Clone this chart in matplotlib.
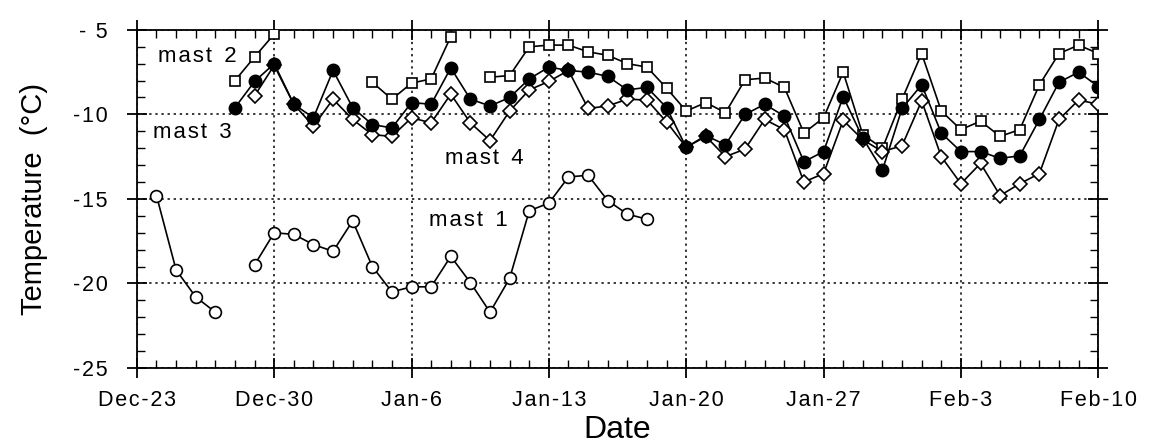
import numpy as np
import matplotlib.pyplot as plt

plt.rcParams['font.family'] = ['Liberation Sans', 'DejaVu Sans']

# days counted from Dec-23
tick_days = [0, 7, 14, 21, 28, 35, 42, 49]
tick_labels = ["Dec-23", "Dec-30", "Jan-6", "Jan-13", "Jan-20", "Jan-27", "Feb-3", "Feb-10"]
y_ticks = [-25, -20, -15, -10, -5]
y_labels = ["-25", "-20", "-15", "-10", "- 5"]

nan = np.nan

# mast 1 (open circles)
days1 = list(range(1, 27))
mast1 = [-14.8, -19.2, -20.8, -21.7, nan,
         -18.9, -17.0, -17.1, -17.7, -18.1, -16.3, -19.0, -20.5, -20.2, -20.2,
         -18.4, -19.95, -21.7, -19.7, -15.7, -15.25, -13.7, -13.6, -15.1, -15.9, -16.2]

# mast 2 (open squares)
days2 = list(range(5, 50))
mast2 = [-8.0, -6.6, -5.25, nan, nan, nan, nan,
         -8.1, -9.1, -8.15, -7.9, -5.4, nan,
         -7.8, -7.7, -6.0, -5.9, -5.9, -6.3, -6.5, -7.0, -7.2, -8.45, -9.8, -9.3,
         -9.9, -7.95, -7.85, -8.4, -11.1, -10.2, -7.5, -11.2, -12.0, -9.1, -6.4,
         -9.8, -10.9, -10.4, -11.3, -10.9, -8.25, -6.4, -5.9, -6.4]

# mast 3 (filled circles)
days3 = list(range(5, 50))
mast3 = [-9.6, -8.05, -7.0, -9.4, -10.2, -7.4, -9.6, -10.6, -10.8, -9.3, -9.4,
         -7.25, -9.1, -9.5, -9.0, -7.9, -7.2, -7.4, -7.5, -7.75, -8.55, -8.4,
         -9.6, -11.95, -11.25, -11.8, -10.0, -9.4, -10.1, -12.8, -12.2, -8.95,
         -11.4, -13.3, -9.65, -8.25, -11.1, -12.2, -12.2, -12.6, -12.45, -10.3,
         -8.1, -7.5, -8.35]

# mast 4 (open diamonds)
days4 = list(range(6, 50))
mast4 = [-8.9, -7.1, -9.4, -10.7, -9.1, -10.3, -11.2, -11.3, -10.2, -10.5,
         -8.8, -10.5, -11.55, -9.8, -8.55, -8.05, -7.4, -9.65, -9.5, -9.1,
         -9.15, -10.45, -11.95, -11.3, -12.5, -12.05, -10.3, -10.9, -14.0,
         -13.5, -10.35, -11.5, -12.2, -11.85, -9.2, -12.5, -14.1, -12.9, -14.8,
         -14.1, -13.5, -10.3, -9.15, -9.4]


def spaced(s):
    # loose letter spacing like the original typesetting
    return "\u200a".join(s)


fig = plt.figure(figsize=(11.5, 4.46), dpi=100)
ax = fig.add_axes([0.119, 0.175, 0.836, 0.758])

lw = 1.2
ax.plot(days1, mast1, '-o', color='black', lw=lw, ms=8.5, mfc='white', mew=1.2, zorder=3)
ax.plot(days2, mast2, '-s', color='black', lw=lw, ms=7.5, mfc='white', mew=1.2, zorder=3)
ax.plot(days4, mast4, '-D', color='black', lw=lw, ms=6.8, mfc='white', mew=1.2, zorder=4)
ax.plot(days3, mast3, '-o', color='black', lw=lw, ms=9, mfc='black', mew=1.0, zorder=5)

lab_kw = dict(fontsize=16, ha='left', va='center')
ax.text(1.1, -6.6, spaced("mast") + "  2", **lab_kw)
ax.text(0.8, -11.05, spaced("mast") + "  3", **lab_kw)
ax.text(15.7, -12.6, spaced("mast") + "  4", **lab_kw)
ax.text(14.9, -16.3, spaced("mast") + "  1", **lab_kw)

ax.set_xlim(0, 49)
ax.set_ylim(-25, -5)
ax.set_xticks(tick_days)
ax.set_xticklabels([spaced(t) for t in tick_labels], fontsize=15.5)
ax.set_xticks(range(0, 50), minor=True)
ax.set_yticks(y_ticks)
ax.set_yticklabels([spaced(t) for t in y_labels], fontsize=15.5)
ax.set_yticks(range(-25, -4), minor=True)

ax.tick_params(which='major', direction='inout', length=14, width=1.3,
               top=True, right=True)
ax.tick_params(axis='x', which='major', pad=9)
ax.tick_params(axis='y', which='major', pad=14)
ax.tick_params(which='minor', direction='in', length=6, width=1.0,
               top=True, right=True)
ax.grid(True, which='major', linestyle=(0, (1.5, 2.5)), color='black', lw=1.1)
for s in ax.spines.values():
    s.set_linewidth(1.3)

ax.set_xlabel("Date", fontsize=23, labelpad=3)
ax.set_ylabel("Temperature  (°C)", fontsize=21, labelpad=18)

fig.savefig("out.png", dpi=100)
